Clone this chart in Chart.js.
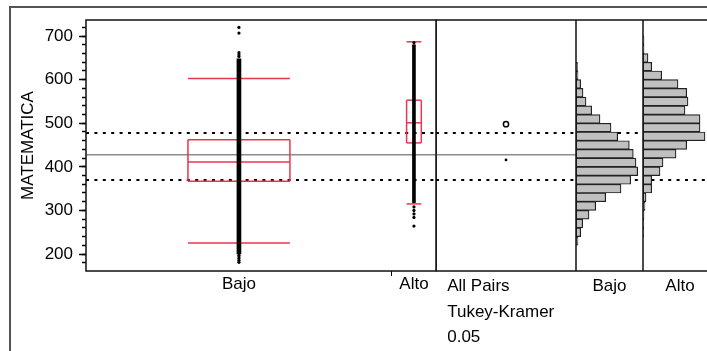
<!DOCTYPE html>
<html>
<head>
<meta charset="utf-8">
<script src="https://cdn.jsdelivr.net/npm/chart.js@4.4.1/dist/chart.umd.min.js"></script>
<style>
  html, body { margin: 0; padding: 0; background: #fff; overflow: hidden; }
  #wrap { position: relative; width: 707px; height: 351px; overflow: hidden; }
  #wrap canvas { position: absolute; top: 0; }
</style>
</head>
<body>
<div id="wrap">
  <canvas id="main" width="707" height="351" style="left:0"></canvas>
  <canvas id="comp" width="140" height="351" style="left:436px"></canvas>
  <canvas id="histBajo" width="67" height="351" style="left:576px"></canvas>
  <canvas id="histAlto" width="74" height="351" style="left:643px"></canvas>
</div>
<script>
// ==== DATA ====
const groups = ['Bajo', 'Alto'];
const groupShare = [0.874, 0.126];      // ancho de cada grupo (proporcional a n)
const q1 = [367, 455];
const median = [411, 501];
const q3 = [462, 553];
const whiskerLow = [225, 315];
const whiskerHigh = [603, 687];
// tramo donde los puntos quedan pegados en una columna continua
const denseLow = [200, 318];
const denseHigh = [648, 680];
const bajoPoints = [720, 707, 662, 657, 653, 197, 193, 189, 185, 181];
const altoPoints = [685, 308, 300, 292, 284, 264];

const groupMeans = [416, 498];          // círculos de comparación
const grandMean = 428;
const dottedLines = [370, 477.5];

const yTicks = [200, 300, 400, 500, 600, 700];
const yMinorTicks = [180, 200, 220, 240, 260, 280, 300, 320, 340, 360, 380, 400, 420, 440, 460,
  480, 500, 520, 540, 560, 580, 600, 620, 640, 660, 680, 700, 720];

const binStarts = [220, 240, 260, 280, 300, 320, 340, 360, 380, 400, 420, 440,
  460, 480, 500, 520, 540, 560, 580, 600, 620, 640, 660, 680];
const binWidth = 20;
const bajoCounts = [2, 4.7, 6.7, 13, 19.7, 29.7, 45, 54.7, 61.7, 60, 57.3, 53.3,
  41.7, 35, 24, 15.7, 10, 7, 4.7, 2, 1.5, 0, 0, 0];
const altoCounts = [0, 0.8, 0.8, 1, 2, 3, 8.7, 8.7, 17, 20, 33, 43.7,
  62, 57, 57, 42, 45, 43.7, 35, 18.7, 8.7, 5, 1, 1];

const compLabels = ['All Pairs', 'Tukey-Kramer', '0.05'];

const yMin = 161, yMax = 737;

// ==== ESTILO ====
Chart.defaults.font.family = '"Liberation Sans", Arial, sans-serif';
Chart.defaults.font.size = 17;
Chart.defaults.color = '#000';
const RED = '#e8364e';
const labelFont = { size: 17 };

// marco del área de dibujo de cada panel
const framePlugin = {
  id: 'frame',
  afterDatasetsDraw(chart) {
    const { ctx, chartArea: a } = chart;
    ctx.save();
    ctx.strokeStyle = '#111';
    ctx.lineWidth = 1.5;
    ctx.strokeRect(a.left, a.top, a.right - a.left, a.bottom - a.top);
    ctx.restore();
  }
};
// marco exterior gris (solo el principal)
const outerFrame = {
  id: 'outer',
  beforeDraw(chart) {
    const ctx = chart.ctx;
    ctx.save();
    ctx.strokeStyle = '#555';
    ctx.lineWidth = 2;
    ctx.beginPath();
    ctx.moveTo(10, 351);
    ctx.lineTo(10, 7);
    ctx.lineTo(707, 7);
    ctx.stroke();
    ctx.restore();
  }
};

function noPad(s, h) {
  s.height = h;
  s.paddingLeft = 0;
  s.paddingRight = 0;
}
function hiddenY() {
  return { type: 'linear', min: yMin, max: yMax, display: false, offset: false };
}
function hLine(v, x0, x1, dotted, order) {
  return {
    type: 'scatter', showLine: true, pointRadius: 0, order: order,
    borderColor: dotted ? '#000' : '#8c8c8c', borderWidth: dotted ? 2 : 1.5,
    borderDash: dotted ? [3, 5.4] : [],
    data: [{ x: x0, y: v }, { x: x1, y: v }]
  };
}
function seg(x0, y0, x1, y1) {
  return {
    type: 'scatter', showLine: true, pointRadius: 0, order: 1,
    borderColor: RED, borderWidth: 1.5,
    data: [{ x: x0, y: y0 }, { x: x1, y: y1 }]
  };
}
const baseOpts = {
  responsive: false, animation: false, events: [],
  plugins: { legend: { display: false }, tooltip: { enabled: false } }
};

// ==== GRÁFICO PRINCIPAL ====
let acc = 0;
const centers = groupShare.map(s => { const c = acc + s / 2; acc += s; return c; });
const boundary = groupShare[0];

const mainSets = [];
groups.forEach((g, i) => {
  mainSets.push({
    type: 'bar', order: 0, grouped: false,
    data: [{ x: centers[i], y: [denseLow[i], denseHigh[i]] }],
    backgroundColor: '#000', barThickness: i === 0 ? 4 : 3
  });
  const h = groupShare[i] / 6, c = centers[i];
  const l = c - h, r = c + h;
  mainSets.push(seg(l, q1[i], r, q1[i]), seg(r, q1[i], r, q3[i]), seg(r, q3[i], l, q3[i]),
    seg(l, q3[i], l, q1[i]), seg(l, median[i], r, median[i]),
    seg(l, whiskerLow[i], r, whiskerLow[i]), seg(l, whiskerHigh[i], r, whiskerHigh[i]),
    seg(c, q1[i], c, whiskerLow[i]), seg(c, q3[i], c, whiskerHigh[i]));
});
[bajoPoints, altoPoints].forEach((pts, i) => {
  mainSets.push({
    type: 'scatter', order: 0, pointRadius: 1.6, pointBorderWidth: 0,
    pointBackgroundColor: '#000',
    data: pts.map(v => ({ x: centers[i], y: v }))
  });
});
mainSets.push(hLine(grandMean, 0, 1, false, 2));
dottedLines.forEach(v => mainSets.push(hLine(v, 0, 1, true, 2)));

new Chart(document.getElementById('main'), {
  type: 'scatter',
  data: { datasets: mainSets },
  options: Object.assign({}, baseOpts, {
    layout: { autoPadding: false, padding: { left: 0, top: 20, right: 271, bottom: 0 } },
    scales: {
      x: {
        type: 'linear', min: 0, max: 1, offset: false,
        afterBuildTicks: s => { s.ticks = [centers[0], boundary, centers[1]].map(v => ({ value: v })); },
        afterFit: s => noPad(s, 80),
        border: { display: false },
        grid: {
          drawOnChartArea: false, offset: false, tickLength: 5, tickWidth: 1,
          tickColor: c => (c.index === 1 ? '#000' : 'rgba(0,0,0,0)')
        },
        ticks: {
          padding: -2, font: labelFont, maxRotation: 0, autoSkip: false,
          callback: (v, idx) => (idx === 0 ? groups[0] : idx === 2 ? groups[1] : '')
        }
      },
      y: {
        type: 'linear', position: 'left', min: yMin, max: yMax, weight: 1,
        afterBuildTicks: s => { s.ticks = yTicks.map(v => ({ value: v })); },
        afterFit: s => { s.width = 86; },
        border: { display: false },
        grid: { drawOnChartArea: false, tickLength: 7, tickWidth: 1.5, tickColor: '#000' },
        ticks: { padding: 6, font: labelFont },
        title: { display: true, text: 'MATEMATICA', font: labelFont, padding: { top: 18, bottom: 0 } }
      },
      yMinor: {
        type: 'linear', position: 'left', min: yMin, max: yMax, weight: 0,
        afterBuildTicks: s => { s.ticks = yMinorTicks.map(v => ({ value: v })); },
        afterFit: s => { s.width = 0; },
        border: { display: false },
        grid: { drawOnChartArea: false, tickLength: 4, tickWidth: 1.5, tickColor: '#000' },
        ticks: { display: false }
      }
    }
  }),
  plugins: [outerFrame, framePlugin]
});

// ==== CÍRCULOS DE COMPARACIÓN ====
new Chart(document.getElementById('comp'), {
  type: 'scatter',
  data: {
    datasets: [
      { order: 0, data: [{ x: 0.5, y: groupMeans[1] }], pointRadius: 2.6, pointBorderWidth: 1.5,
        pointBorderColor: '#000', pointBackgroundColor: '#fff' },
      { order: 0, data: [{ x: 0.5, y: groupMeans[0] }], pointRadius: 1.4, pointBorderWidth: 0,
        pointBackgroundColor: '#000' },
      hLine(grandMean, 0, 1, false, 2),
      hLine(dottedLines[0], 0, 1, true, 2),
      hLine(dottedLines[1], 0, 1, true, 2)
    ]
  },
  options: Object.assign({}, baseOpts, {
    layout: { autoPadding: false, padding: { left: 0, top: 20, right: 0, bottom: 0 } },
    scales: {
      x: {
        type: 'linear', min: 0, max: 1, offset: false,
        afterBuildTicks: s => { s.ticks = [{ value: 0.08 }]; },
        afterFit: s => noPad(s, 80),
        border: { display: false },
        grid: { display: false, drawTicks: false },
        ticks: { align: 'start', padding: 3, maxRotation: 0, autoSkip: false,
          font: { size: 17, lineHeight: 1.5 }, callback: () => compLabels }
      },
      y: hiddenY()
    }
  }),
  plugins: [framePlugin]
});

// ==== HISTOGRAMAS ====
function histChart(id, counts, label, xMax) {
  const bars = binStarts.map((b, i) => ({ y: b + binWidth / 2, x: counts[i] })).filter(d => d.x > 0);
  new Chart(document.getElementById(id), {
    type: 'scatter',
    data: {
      datasets: [
        { type: 'bar', indexAxis: 'y', order: 1, data: bars,
          backgroundColor: '#c0c0c0', borderColor: '#222', borderWidth: 1.2,
          borderSkipped: false, barPercentage: 1, categoryPercentage: 1 },
        hLine(dottedLines[0], 0, xMax, true, 2),
        hLine(dottedLines[1], 0, xMax, true, 2)
      ]
    },
    options: Object.assign({}, baseOpts, {
      layout: { autoPadding: false, padding: { left: 0, top: 20, right: 0, bottom: 0 } },
      scales: {
        x: {
          type: 'linear', min: 0, max: xMax, offset: false,
          afterFit: s => noPad(s, 80),
          border: { display: false },
          grid: { display: false },
          ticks: { display: false },
          title: { display: true, text: label, font: labelFont, padding: { top: 0, bottom: 54 } }
        },
        y: Object.assign(hiddenY(), { ticks: { stepSize: 100 } })
      }
    }),
    plugins: [framePlugin]
  });
}
histChart('histBajo', bajoCounts, 'Bajo', 67);
histChart('histAlto', altoCounts, 'Alto', 74);
</script>
</body>
</html>
